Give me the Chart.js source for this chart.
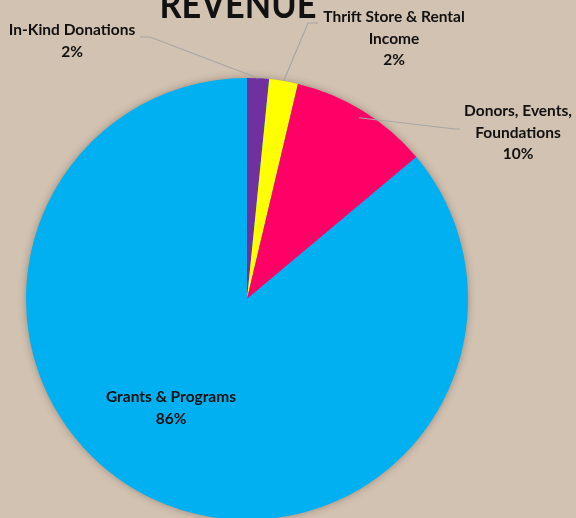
<!DOCTYPE html>
<html lang="en">
<head>
    <meta charset="UTF-8">
    <title>Revenue</title>
    <script src="https://cdn.jsdelivr.net/npm/chart.js"></script>
    <style>
        html, body { margin: 0; padding: 0; background: #D2C2B2; overflow: hidden; }
        #wrap { position: relative; width: 576px; height: 520px; }
    </style>
</head>
<body>
    <div id="wrap">
        <canvas id="graficoIngresos"></canvas>
    </div>

    <script>
        // Datos del gráfico
        const categorias = ['In-Kind Donations', 'Thrift Store & Rental Income', 'Donors, Events, Foundations', 'Grants & Programs'];
        const valores = [1.6, 2.1, 10.2, 86.1];
        const colores = ['#7030A0', '#FFFF00', '#FF0066', '#00B0F0'];

        // Posición de las etiquetas (líneas de texto, centro, línea guía, hundimiento en la porción)
        const etiquetas = [
            { lineas: ['In-Kind Donations'], x: 72, y: 30, guia: [[140, 37], [150, 37]], dentro: 0 },
            { lineas: ['Thrift Store & Rental', 'Income'], x: 394, y: 17, guia: [[318, 23], [308, 23]], dentro: 0 },
            { lineas: ['Donors, Events,', 'Foundations'], x: 518, y: 111, guia: [[460, 129], [455, 129]], dentro: 8 },
            { lineas: ['Grants & Programs'], x: 171, y: 397, guia: null, dentro: 0 }
        ];

        const fuente = 'bold 15.5px Lato, "Open Sans", sans-serif';

        const sombra = {
            id: 'sombra',
            beforeDatasetsDraw(chart) {
                const ctx = chart.ctx;
                ctx.save();
                ctx.shadowColor = 'rgba(60, 40, 20, 0.45)';
                ctx.shadowBlur = 9;
                const arc = chart.getDatasetMeta(0).data[0];
                ctx.beginPath();
                ctx.arc(arc.x, arc.y, arc.outerRadius - 1, 0, Math.PI * 2);
                ctx.fillStyle = '#00B0F0';
                ctx.fill();
                ctx.restore();
            }
        };

        const rotulos = {
            id: 'rotulos',
            afterDatasetsDraw(chart) {
                const ctx = chart.ctx;
                const meta = chart.getDatasetMeta(0);
                ctx.save();
                ctx.font = fuente;
                ctx.textAlign = 'center';
                ctx.textBaseline = 'middle';
                etiquetas.forEach((e, i) => {
                    if (e.guia) {
                        const arc = meta.data[i];
                        const ang = (arc.startAngle + arc.endAngle) / 2;
                        const px = arc.x + Math.cos(ang) * (arc.outerRadius - e.dentro);
                        const py = arc.y + Math.sin(ang) * (arc.outerRadius - e.dentro);
                        ctx.strokeStyle = '#A6A6A6';
                        ctx.lineWidth = 1.2;
                        ctx.beginPath();
                        ctx.moveTo(e.guia[0][0], e.guia[0][1]);
                        ctx.lineTo(e.guia[1][0], e.guia[1][1]);
                        ctx.lineTo(px, py);
                        ctx.stroke();
                    }
                    ctx.fillStyle = '#111111';
                    const textos = e.lineas.concat([Math.round(valores[i]) + '%']);
                    textos.forEach((t, k) => ctx.fillText(t, e.x, e.y + k * 21.5));
                });
                // título
                ctx.font = 'bold 39px Lato, "Open Sans", sans-serif';
                ctx.translate(238, 5);
                ctx.scale(0.88, 1);
                ctx.fillText('REVENUE', 0, 0);
                ctx.restore();
            }
        };

        const ctx = document.getElementById('graficoIngresos').getContext('2d');
        new Chart(ctx, {
            type: 'pie',
            data: {
                labels: categorias,
                datasets: [{
                    data: valores,
                    backgroundColor: colores,
                    borderWidth: 0
                }]
            },
            options: {
                responsive: true,
                maintainAspectRatio: false,
                animation: false,
                layout: {
                    padding: { left: 26, right: 108, top: 78, bottom: 0 }
                },
                plugins: {
                    legend: { display: false },
                    tooltip: { enabled: false },
                    title: { display: false }
                }
            },
            plugins: [sombra, rotulos]
        });
    </script>
</body>
</html>
